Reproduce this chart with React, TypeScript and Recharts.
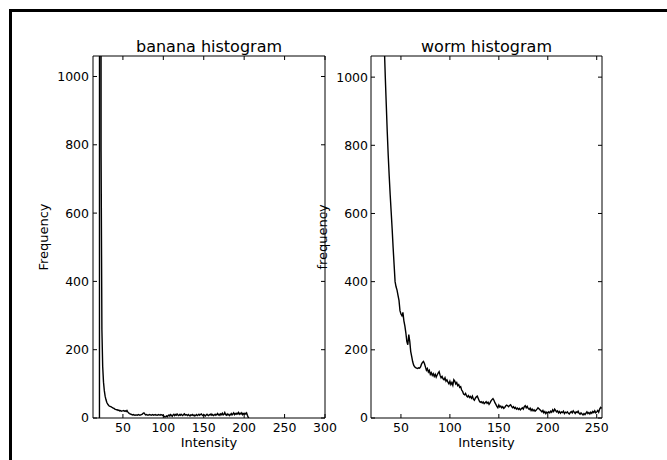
import { LineChart, Line, XAxis, YAxis } from 'recharts';

// banana histogram: counts per intensity, first bin = 20
const bananaStart = 20;
const bananaCounts = [
  0, 0, 20000, 780, 260, 150, 105, 80, 64, 54,
  46, 41, 38, 35, 34, 33, 32, 30, 29, 28,
  26, 25, 24, 24, 22, 23, 21, 22, 20, 21,
  21, 22, 20, 21, 19, 22, 18, 15, 13, 12,
  11, 10, 9, 10, 8, 9, 8, 9, 8, 10,
  9, 8, 9, 10, 11, 14, 15, 12, 9, 10,
  9, 8, 9, 10, 9, 8, 9, 10, 8, 9,
  10, 8, 9, 8, 10, 9, 8, 10, 9, 8,
  7, 5, 3, 4, 6, 4, 7, 9, 6, 10,
  8, 5, 9, 11, 7, 10, 8, 12, 9, 7,
  10, 8, 11, 9, 7, 10, 12, 8, 10, 9,
  7, 10, 8, 6, 9, 8, 10, 7, 9, 6,
  8, 10, 7, 9, 11, 8, 10, 12, 9, 7,
  10, 8, 6, 9, 11, 8, 7, 10, 9, 12,
  8, 10, 7, 9, 11, 8, 10, 13, 9, 11,
  8, 12, 10, 14, 9, 11, 16, 10, 8, 12,
  9, 11, 7, 10, 13, 9, 12, 15, 10, 13,
  11, 14, 12, 16, 11, 14, 12, 15, 10, 13,
  11, 14, 12, 15, 8, 2, 0,
];

// worm histogram: counts per intensity, first bin = 19
const wormStart = 19;
const wormCounts = [
  6000, 5200, 4500, 3900, 3400, 2900, 2500, 2200, 1950, 1750, 1550,
  1400, 1280, 1180, 1090, 1000, 920, 840, 770, 710, 655,
  605, 555, 500, 450, 400, 385, 375, 360, 345, 315,
  305, 300, 310, 285, 270, 250, 225, 215, 245, 225,
  195, 180, 165, 155, 150, 148, 146, 145, 147, 146,
  150, 158, 163, 166, 160, 150, 140, 145, 135, 140,
  128, 133, 125, 130, 122, 128, 120, 126, 132, 136,
  125, 118, 122, 115, 112, 118, 108, 112, 105, 100,
  108, 98, 104, 96, 112, 108, 100, 104, 95, 98,
  90, 92, 82, 78, 70, 68, 72, 65, 62, 66,
  60, 63, 58, 64, 55, 52, 58, 62, 64, 57,
  50, 46, 48, 44, 47, 42, 45, 48, 43, 46,
  40, 44, 50, 54, 57, 52, 45, 40, 34, 30,
  38, 32, 35, 30, 33, 28, 31, 35, 38, 36,
  33, 37, 39, 34, 30, 33, 28, 31, 26, 29,
  25, 28, 24, 27, 30, 26, 33, 36, 30, 34,
  28, 25, 29, 22, 26, 21, 24, 20, 23, 26,
  30, 27, 24, 21, 18, 22, 15, 19, 13, 17,
  14, 18, 15, 20, 17, 24, 19, 26, 22, 18,
  21, 15, 19, 14, 18, 16, 20, 13, 17, 15,
  18, 14, 12, 16, 19, 15, 21, 17, 13, 18,
  16, 20, 14, 11, 15, 12, 9, 13, 10, 14,
  18, 13, 16, 12, 17, 14, 19, 16, 21, 15,
  18, 22, 17, 26, 31, 28,
];

const bananaXTicks = [50, 100, 150, 200, 250, 300];
const wormXTicks = [50, 100, 150, 200, 250];
const yTicks = [0, 200, 400, 600, 800, 1000];

const bananaData = bananaCounts.map((y, i) => ({ x: bananaStart + i, y }));
const wormData = wormCounts.map((y, i) => ({ x: wormStart + i, y }));

const FONT = 'DejaVu Sans, sans-serif';
const tickStyle = { fontSize: 12.5, fill: '#000', fontFamily: FONT };
const axisLine = { stroke: '#000', strokeWidth: 1 };
const blank = () => '';

interface HistProps {
  data: { x: number; y: number }[];
  title: string;
  yLabel: string;
  yLabelDx: number;
  xDomain: [number, number];
  xTicks: number[];
  yDomainMax: number;
  width: number;
  yAxisWidth: number;
  marginRight: number;
  yTickMargin: number;
}

const Histogram = ({
  data,
  title,
  yLabel,
  yLabelDx,
  xDomain,
  xTicks,
  yDomainMax,
  width,
  yAxisWidth,
  marginRight,
  yTickMargin,
}: HistProps) => (
  <LineChart
    width={width}
    height={460}
    data={data}
    margin={{ top: 55, right: marginRight - 1, bottom: 0, left: 0 }}
  >
    <XAxis
      dataKey="x"
      type="number"
      domain={xDomain}
      ticks={xTicks}
      interval={0}
      allowDataOverflow
      height={42}
      tickSize={-4}
      tickMargin={9}
      axisLine={axisLine}
      tickLine={axisLine}
      tick={tickStyle}
      label={{
        value: 'Intensity',
        position: 'insideBottom',
        offset: 13,
        style: { fontSize: 13, fill: '#000', fontFamily: FONT },
      }}
    />
    <XAxis
      xAxisId="top"
      orientation="top"
      dataKey="x"
      type="number"
      domain={xDomain}
      ticks={xTicks}
      interval={0}
      allowDataOverflow
      height={1}
      tickSize={-4}
      axisLine={axisLine}
      tickLine={axisLine}
      tickFormatter={blank}
      label={{
        value: title,
        position: 'top',
        offset: 3,
        style: { fontSize: 16, fill: '#000', fontFamily: FONT },
      }}
    />
    <YAxis
      type="number"
      domain={[0, yDomainMax]}
      ticks={yTicks}
      interval={0}
      allowDataOverflow
      width={yAxisWidth}
      tickSize={-4}
      tickMargin={yTickMargin}
      axisLine={axisLine}
      tickLine={axisLine}
      tick={tickStyle}
      label={{
        value: yLabel,
        angle: -90,
        position: 'center',
        dx: yLabelDx,
        style: { fontSize: 13, fill: '#000', fontFamily: FONT, textAnchor: 'middle' },
      }}
    />
    <YAxis
      yAxisId="right"
      orientation="right"
      type="number"
      domain={[0, yDomainMax]}
      ticks={yTicks}
      interval={0}
      allowDataOverflow
      width={1}
      tickSize={-4}
      axisLine={axisLine}
      tickLine={axisLine}
      tickFormatter={blank}
    />
    <Line
      type="linear"
      dataKey="y"
      stroke="#000"
      strokeWidth={1.4}
      dot={false}
      activeDot={false}
      isAnimationActive={false}
    />
    {/* same series on the top/right axes, invisible, so those axes get drawn */}
    <Line
      xAxisId="top"
      yAxisId="right"
      type="linear"
      dataKey="y"
      stroke="none"
      dot={false}
      activeDot={false}
      legendType="none"
      isAnimationActive={false}
    />
  </LineChart>
);

export default function App() {
  return (
    <div
      style={{
        position: 'absolute',
        left: 0,
        top: 0,
        width: 667,
        height: 460,
        overflow: 'hidden',
        background: '#fff',
        fontFamily: FONT,
      }}
    >
      <div
        style={{
          position: 'absolute',
          left: 9,
          top: 9,
          width: 700,
          height: 500,
          borderLeft: '3px solid #000',
          borderTop: '3px solid #000',
        }}
      />
      <div style={{ position: 'absolute', left: 0, top: 0 }}>
        <Histogram
          data={bananaData}
          title="banana histogram"
          yLabel="Frequency"
          yLabelDx={-3}
          xDomain={[13, 300]}
          xTicks={bananaXTicks}
          yDomainMax={1060}
          width={340}
          yAxisWidth={93}
          marginRight={15}
          yTickMargin={8}
        />
      </div>
      <div style={{ position: 'absolute', left: 300, top: 0 }}>
        <Histogram
          data={wormData}
          title="worm histogram"
          yLabel="frequency"
          yLabelDx={-13.5}
          xDomain={[19.4, 255.4]}
          xTicks={wormXTicks}
          yDomainMax={1062}
          width={320}
          yAxisWidth={71}
          marginRight={18}
          yTickMargin={7}
        />
      </div>
    </div>
  );
}
